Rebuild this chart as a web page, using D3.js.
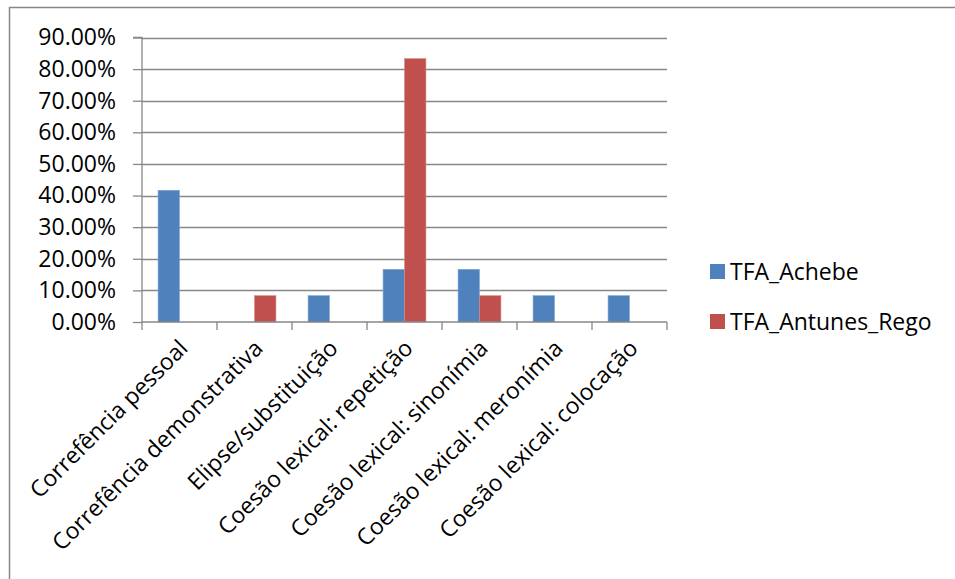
<!DOCTYPE html>
<html>
<head>
<meta charset="utf-8">
<script src="https://cdn.jsdelivr.net/npm/d3@7"></script>
<style>
  html, body { margin: 0; padding: 0; background: #fff; }
  svg { display: block; font-family: "Open Sans", sans-serif; }
</style>
</head>
<body>
<svg id="chart" width="955" height="579"></svg>
<script>
// Cohesion mechanisms, share of occurrences per text
const categories = [
  "Correfência pessoal",
  "Correfência demonstrativa",
  "Elipse/substituição",
  "Coesão lexical: repetição",
  "Coesão lexical: sinonímia",
  "Coesão lexical: meronímia",
  "Coesão lexical: colocação"
];
const seriesNames = ["TFA_Achebe", "TFA_Antunes_Rego"];
const achebe = [0.4167, 0, 0.0833, 0.1667, 0.1667, 0.0833, 0.0833];
const antunesRego = [0, 0.0833, 0, 0.8333, 0.0833, 0, 0];
const yTicks = [0, 0.1, 0.2, 0.3, 0.4, 0.5, 0.6, 0.7, 0.8, 0.9];
const colors = ["#4F81BD", "#C0504D"];

const series = [achebe, antunesRego];
const svg = d3.select("#chart");
const gridColor = "#878787";
const fontSize = 23;

// Outer frame (left and top edges)
svg.append("path")
  .attr("d", "M9.5,579 V7.5 H955")
  .attr("fill", "none").attr("stroke", gridColor).attr("stroke-width", 1.5);

const plot = { left: 142, right: 667, top: 37.5, bottom: 322 };

const x = d3.scaleBand().domain(categories).range([plot.left, plot.right]).paddingInner(0).paddingOuter(0);
const y = d3.scaleLinear().domain([0, 0.9]).range([plot.bottom, plot.top]);
const barW = x.bandwidth() / 3.5;
const xs = d3.scaleBand().domain(seriesNames).range([0, barW * 2]);

// Horizontal gridlines
svg.append("g").selectAll("line").data(yTicks.filter(d => d > 0)).join("line")
  .attr("x1", plot.left).attr("x2", plot.right)
  .attr("y1", d => Math.round(y(d)) + 0.5).attr("y2", d => Math.round(y(d)) + 0.5)
  .attr("stroke", gridColor).attr("stroke-width", 1.3);

// Bars
const groups = svg.append("g").selectAll("g").data(series).join("g")
  .attr("fill", (d, i) => colors[i]);
groups.each(function(vals, si) {
  d3.select(this).selectAll("rect").data(vals.map((v, ci) => ({ v, ci }))).join("rect")
    .filter(d => d.v > 0)
    .attr("x", d => x(categories[d.ci]) + (x.bandwidth() - barW * 2) / 2 + xs(seriesNames[si]))
    .attr("width", xs.bandwidth())
    .attr("y", d => y(d.v))
    .attr("height", d => y(0) - y(d.v))
    .attr("stroke", si === 0 ? "#7FA6D6" : "#D98A88")
    .attr("stroke-width", 0.6);
});

// Y axis
const yAxis = d3.axisLeft(y).tickValues(yTicks).tickSize(9).tickPadding(17)
  .tickFormat(d => (d * 100).toFixed(2) + "%");
const gy = svg.append("g").attr("transform", `translate(${plot.left},0)`).call(yAxis);
gy.select(".domain").attr("stroke", gridColor).attr("stroke-width", 1.3)
  .attr("d", `M-9,${plot.top}H0V${plot.bottom}`);
gy.selectAll(".tick line").attr("stroke", gridColor).attr("stroke-width", 1.3);
gy.selectAll(".tick text").attr("fill", "#000").attr("font-size", fontSize)
  .attr("font-family", "'Open Sans', sans-serif");

// X axis: boundary ticks between categories
const bounds = categories.map(c => x(c)).concat([plot.right]);
svg.append("line").attr("x1", plot.left).attr("x2", plot.right)
  .attr("y1", plot.bottom).attr("y2", plot.bottom)
  .attr("stroke", gridColor).attr("stroke-width", 1.3);
svg.append("g").selectAll("line").data(bounds).join("line")
  .attr("x1", d => d).attr("x2", d => d)
  .attr("y1", plot.bottom).attr("y2", plot.bottom + 8)
  .attr("stroke", gridColor).attr("stroke-width", 1.3);

// Rotated category labels
svg.append("g").selectAll("text").data(categories).join("text")
  .attr("transform", d => `translate(${x(d) + x.bandwidth() / 2 + 4},${plot.bottom + 22}) rotate(-45)`)
  .attr("text-anchor", "end")
  .attr("dy", "0.35em")
  .attr("font-size", fontSize)
  .attr("fill", "#000")
  .text(d => d);

// Legend
const legend = svg.append("g").selectAll("g").data(seriesNames).join("g")
  .attr("transform", (d, i) => `translate(710,${264 + i * 50})`);
legend.append("rect").attr("width", 15).attr("height", 15).attr("fill", (d, i) => colors[i]);
legend.append("text").attr("x", 20).attr("y", 16)
  .attr("font-size", fontSize).attr("fill", "#000").text(d => d);
</script>
</body>
</html>
